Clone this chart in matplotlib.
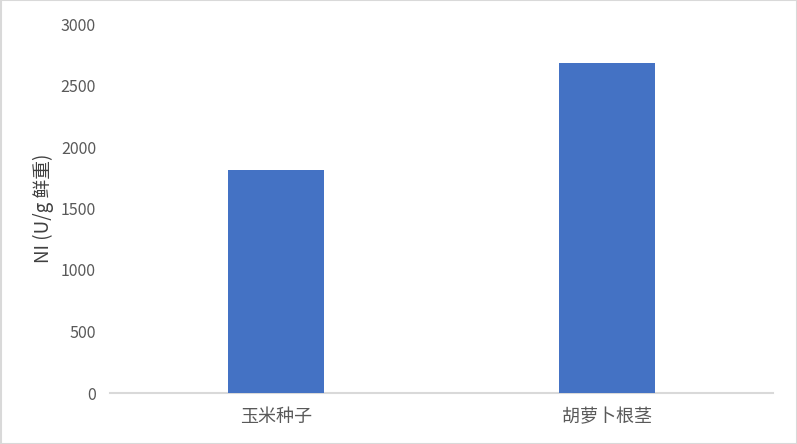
import matplotlib
matplotlib.use("Agg")
import matplotlib.pyplot as plt
from matplotlib.patches import Rectangle

categories = ["玉米种子", "胡萝卜根茎"]
values = [1812, 2683]
yticks = [0, 500, 1000, 1500, 2000, 2500, 3000]

plt.rcParams['font.family'] = ['Noto Sans CJK SC', 'DejaVu Sans']

fig = plt.figure(figsize=(7.97, 4.44), dpi=100)
ax = fig.add_axes([110/797, 1-393/444, (773-110)/797, (393-24)/444])

x = range(len(categories))
ax.bar(x, values, width=0.29, color="#4472C4", zorder=3)
ax.set_xlim(-0.5, len(categories)-0.5)
ax.set_ylim(0, 3000)
ax.set_yticks(yticks)
ax.set_yticklabels([str(t) for t in yticks])
ax.set_xticks(list(x))
ax.set_xticklabels(categories)

for s in ["top", "right", "left"]:
    ax.spines[s].set_visible(False)
ax.spines["bottom"].set_color("#d9d9d9")
ax.spines["bottom"].set_linewidth(1.5)
ax.tick_params(axis="both", length=0, colors="#595959")
ax.tick_params(axis="y", labelsize=11.5, pad=10)
ax.tick_params(axis="x", labelsize=13, pad=11)

ax.set_ylabel("NI (U/g 鲜重)", fontsize=13.5, color="#404040", labelpad=5)

fig.patches.append(Rectangle((0.5/797, 0.5/444), 1-1/797, 1-1/444, transform=fig.transFigure,
                             fill=False, edgecolor="#d9d9d9", linewidth=1.5))

fig.savefig("out.png", dpi=100)
